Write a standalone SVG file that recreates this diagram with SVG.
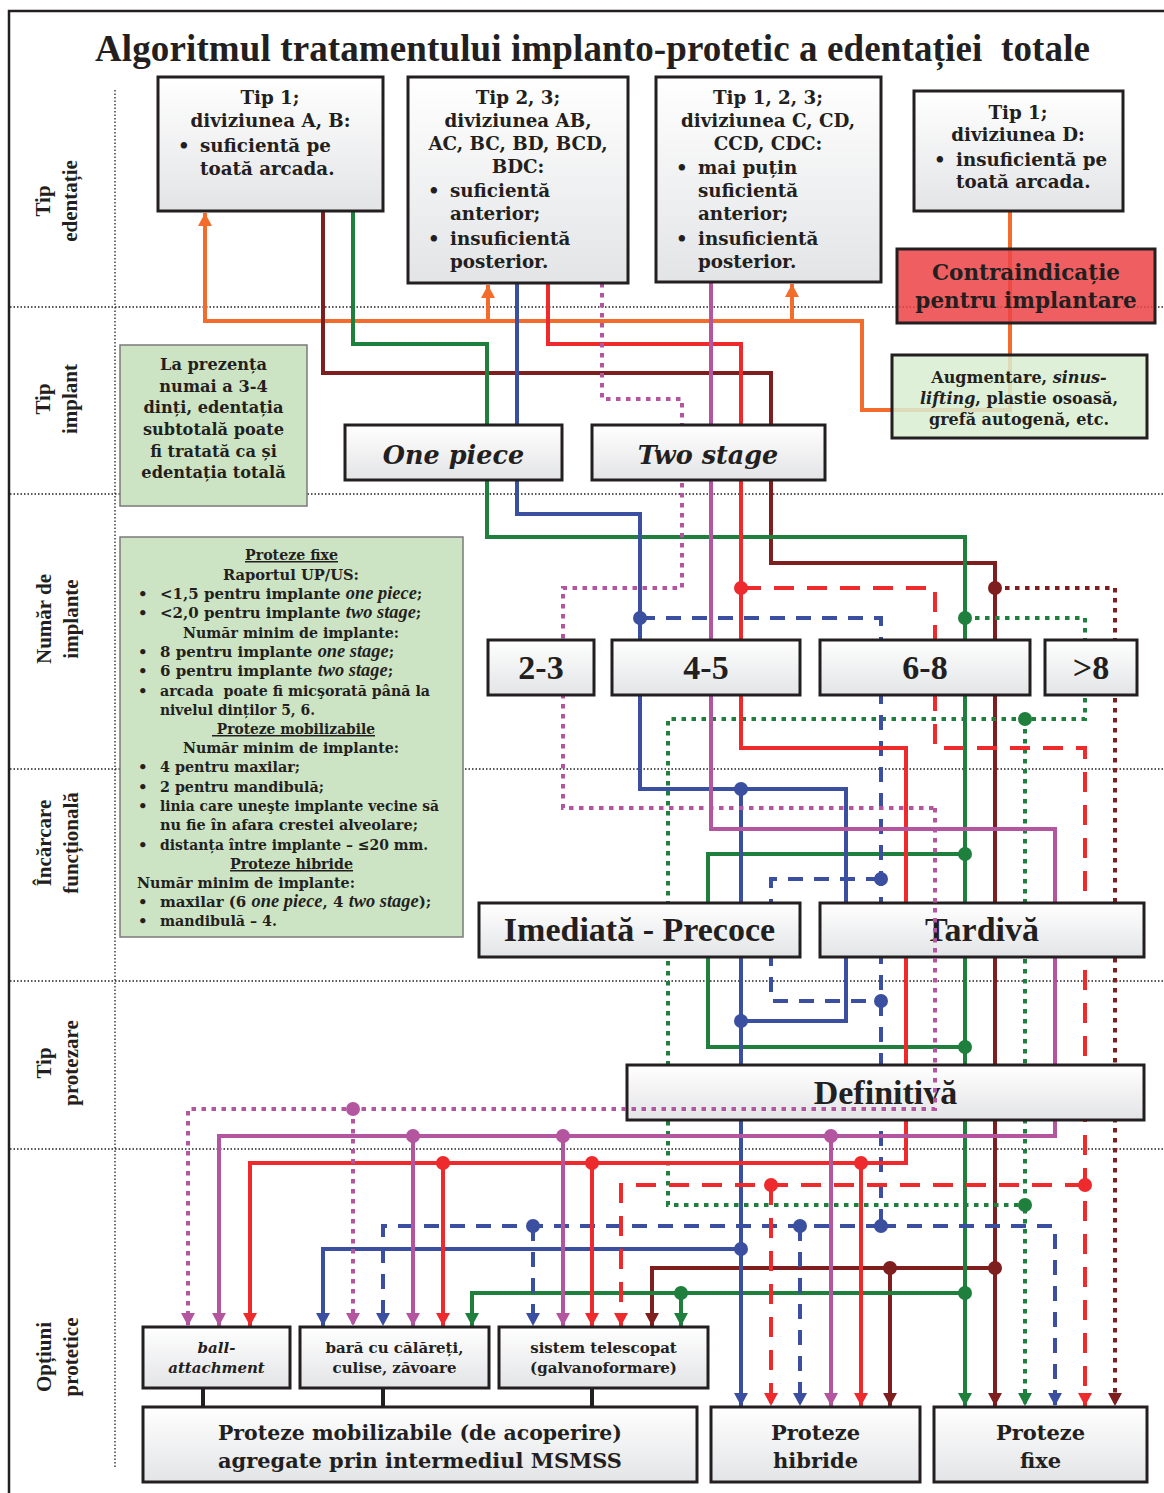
<svg xmlns="http://www.w3.org/2000/svg" width="1164" height="1493" viewBox="0 0 1164 1493">
<defs>
<linearGradient id="gb" x1="0" y1="0" x2="0" y2="1">
<stop offset="0" stop-color="#ffffff"/>
<stop offset="1" stop-color="#e3e4e6"/>
</linearGradient>
<marker id="aO" markerUnits="userSpaceOnUse" markerWidth="16" markerHeight="16" refX="13" refY="7" orient="auto"><path d="M0,0 L13,7 L0,14 z" fill="#f36c2b"/></marker>
<marker id="aM" markerUnits="userSpaceOnUse" markerWidth="16" markerHeight="16" refX="13" refY="7" orient="auto"><path d="M0,0 L13,7 L0,14 z" fill="#7e1e1f"/></marker>
<marker id="aG" markerUnits="userSpaceOnUse" markerWidth="16" markerHeight="16" refX="13" refY="7" orient="auto"><path d="M0,0 L13,7 L0,14 z" fill="#1f7f3c"/></marker>
<marker id="aB" markerUnits="userSpaceOnUse" markerWidth="16" markerHeight="16" refX="13" refY="7" orient="auto"><path d="M0,0 L13,7 L0,14 z" fill="#3a4f9f"/></marker>
<marker id="aR" markerUnits="userSpaceOnUse" markerWidth="16" markerHeight="16" refX="13" refY="7" orient="auto"><path d="M0,0 L13,7 L0,14 z" fill="#ee2a2c"/></marker>
<marker id="aP" markerUnits="userSpaceOnUse" markerWidth="16" markerHeight="16" refX="13" refY="7" orient="auto"><path d="M0,0 L13,7 L0,14 z" fill="#b3559f"/></marker>
</defs>
<style>
.box{fill:url(#gb);stroke:#231f20;stroke-width:3}
.grn{fill:#cde4c4;stroke:#7a7a7a;stroke-width:1.5}
.d{font-family:"DejaVu Serif",serif;font-weight:bold;fill:#231f20}
.s{font-family:"Liberation Serif","Times New Roman",serif;font-weight:bold;fill:#231f20}
.mid{text-anchor:middle}
.it{font-style:italic}
.ti{font-family:"Liberation Serif","Times New Roman",serif;font-style:italic;font-size:18.4px}
.grid{fill:none;stroke:#231f20;stroke-width:1.3;stroke-dasharray:1.5 2}
.c{fill:none;stroke-width:4;stroke-linejoin:miter}
.o{stroke:#f36c2b}.m{stroke:#7e1e1f}.g{stroke:#1f7f3c}.b{stroke:#3a4f9f}.r{stroke:#ee2a2c}.p{stroke:#b3559f}
.dt{stroke-dasharray:4.5 5.5}
.dr{stroke-dasharray:20 13}
.ds{stroke-dasharray:15 11}
.stub{stroke:#231f20;stroke-width:4}
</style>
<rect width="1164" height="1493" fill="#ffffff"/>
<g id="frame">
<path d="M9,1493 V11 H1164" fill="none" stroke="#231f20" stroke-width="2.5"/>
<path class="grid" d="M10,307 H1164 M10,494 H1164 M10,769 H1164 M10,981 H1164 M10,1149 H1164 M115,90 V1467"/>
</g>
<text id="title" class="s mid" font-size="37" x="592.5" y="61" textLength="995" xml:space="preserve">Algoritmul tratamentului implanto-protetic a edentației  totale</text>
<g id="row-labels" class="s mid" font-size="21">
<text transform="translate(0,201) rotate(-90)"><tspan x="0" y="50">Tip</tspan><tspan x="0" y="77">edentație</tspan></text>
<text transform="translate(0,399) rotate(-90)"><tspan x="0" y="50">Tip</tspan><tspan x="0" y="77">implant</tspan></text>
<text transform="translate(0,619) rotate(-90)"><tspan x="0" y="51">Număr de</tspan><tspan x="0" y="78">implante</tspan></text>
<text transform="translate(0,843) rotate(-90)"><tspan x="0" y="51">Încărcare</tspan><tspan x="0" y="78">funcțională</tspan></text>
<text transform="translate(0,1063) rotate(-90)"><tspan x="0" y="51">Tip</tspan><tspan x="0" y="78">protezare</tspan></text>
<text transform="translate(0,1357) rotate(-90)"><tspan x="0" y="51">Opțiuni</tspan><tspan x="0" y="78">protetice</tspan></text>
</g>

<g id="connectors">
<path class="c o" d="M1010,211 V410 H862 V321 H205 V213" marker-end="url(#aO)"/>
<path class="c o" d="M488,321 V285" marker-end="url(#aO)"/>
<path class="c o" d="M792,321 V284" marker-end="url(#aO)"/>

<path class="c m" d="M323,211 V373 H771 V563 H995 V1406" marker-end="url(#aM)"/>
<path class="c m" d="M995,1268 H652 V1326" marker-end="url(#aM)"/>
<path class="c m" d="M890,1268 V1406" marker-end="url(#aM)"/>
<path class="c m dt" d="M995,588 H1115 V1406" marker-end="url(#aM)"/>

<path class="c g" d="M353,211 V344 H487 V537 H965 V1406" marker-end="url(#aG)"/>
<path class="c g" d="M965,854 H708 V1047 H965"/>
<path class="c g" d="M965,1293 H472 V1326" marker-end="url(#aG)"/>
<path class="c g" d="M681,1293 V1326" marker-end="url(#aG)"/>
<path class="c g dt" d="M965,618 H1085 V719 H668 V1205 H1025"/>
<path class="c g dt" d="M1025,719 V1406" marker-end="url(#aG)"/>

<path class="c b" d="M517,283 V514 H640 V789 H846 V1021 H741"/>
<path class="c b" d="M741,789 V1406" marker-end="url(#aB)"/>
<path class="c b" d="M741,1249 H323 V1326" marker-end="url(#aB)"/>
<path class="c b ds" d="M640,618 H881 V1226"/>
<path class="c b ds" d="M881,879 H771 V1001 H881"/>
<path class="c b ds" d="M881,1226 H383 V1326" marker-end="url(#aB)"/>
<path class="c b ds" d="M881,1226 H1055 V1406" marker-end="url(#aB)"/>
<path class="c b ds" d="M533,1226 V1326" marker-end="url(#aB)"/>
<path class="c b ds" d="M800,1226 V1406" marker-end="url(#aB)"/>

<path class="c r" d="M548,283 V344 H741 V748 H906 V1163 H250 V1326" marker-end="url(#aR)"/>
<path class="c r" d="M443,1163 V1326" marker-end="url(#aR)"/>
<path class="c r" d="M592,1163 V1326" marker-end="url(#aR)"/>
<path class="c r" d="M861,1163 V1406" marker-end="url(#aR)"/>
<path class="c r dr" d="M741,588 H935 V748 H1085 V1406" marker-end="url(#aR)"/>
<path class="c r dr" d="M1085,1185 H621 V1326" marker-end="url(#aR)"/>
<path class="c r dr" d="M771,1185 V1406" marker-end="url(#aR)"/>

<path class="c p" d="M711,282 V829 H1055 V1136 H219 V1326" marker-end="url(#aP)"/>
<path class="c p" d="M413,1136 V1326" marker-end="url(#aP)"/>
<path class="c p" d="M563,1136 V1326" marker-end="url(#aP)"/>
<path class="c p" d="M831,1136 V1406" marker-end="url(#aP)"/>
<path class="c p dt" d="M602,283 V399 H682 V588 H563 V808 H935"/>

<g fill="#7e1e1f"><circle cx="995" cy="588" r="7"/><circle cx="995" cy="1268" r="7"/><circle cx="890" cy="1268" r="7"/></g>
<g fill="#ee2a2c"><circle cx="741" cy="588" r="7"/><circle cx="443" cy="1163" r="7"/><circle cx="592" cy="1163" r="7"/><circle cx="861" cy="1163" r="7"/><circle cx="771" cy="1185" r="7"/><circle cx="1085" cy="1185" r="7"/></g>
<g fill="#3a4f9f"><circle cx="640" cy="618" r="7"/><circle cx="741" cy="789" r="7"/><circle cx="741" cy="1021" r="7"/><circle cx="741" cy="1249" r="7"/><circle cx="881" cy="879" r="7"/><circle cx="881" cy="1001" r="7"/><circle cx="881" cy="1226" r="7"/><circle cx="533" cy="1226" r="7"/><circle cx="800" cy="1226" r="7"/></g>
<g fill="#1f7f3c"><circle cx="965" cy="618" r="7"/><circle cx="965" cy="854" r="7"/><circle cx="965" cy="1047" r="7"/><circle cx="965" cy="1293" r="7"/><circle cx="681" cy="1293" r="7"/><circle cx="1025" cy="719" r="7"/><circle cx="1025" cy="1205" r="7"/></g>
<g fill="#b3559f"><circle cx="413" cy="1136" r="7"/><circle cx="563" cy="1136" r="7"/><circle cx="831" cy="1136" r="7"/></g>
<path class="stub" d="M203,1388 V1407 M383,1388 V1407 M592,1388 V1407"/>
</g>

<g id="box-tip1ab">
<rect class="box" x="158" y="77" width="225" height="134"/>
<g class="d" font-size="18.3">
<text class="mid" x="270" y="104">Tip 1;</text>
<text class="mid" x="270.5" y="127">diviziunea A, B:</text>
<text x="178" y="152">•</text><text x="200" y="152">suficientă pe</text>
<text x="200" y="175">toată arcada.</text>
</g>
</g>
<g id="box-tip23">
<rect class="box" x="408" y="77" width="220" height="206"/>
<g class="d" font-size="18.3">
<text class="mid" x="518" y="104">Tip 2, 3;</text>
<text class="mid" x="518" y="127">diviziunea AB,</text>
<text class="mid" x="518" y="150">AC, BC, BD, BCD,</text>
<text class="mid" x="518" y="173">BDC:</text>
<text x="428" y="197">•</text><text x="450" y="197">suficientă</text>
<text x="450" y="220">anterior;</text>
<text x="428" y="245">•</text><text x="450" y="245">insuficientă</text>
<text x="450" y="268">posterior.</text>
</g>
</g>
<g id="box-tip123">
<rect class="box" x="656" y="77" width="225" height="205"/>
<g class="d" font-size="18.3">
<text class="mid" x="768" y="104">Tip 1, 2, 3;</text>
<text class="mid" x="768" y="127">diviziunea C, CD,</text>
<text class="mid" x="768" y="150">CCD, CDC:</text>
<text x="676" y="174">•</text><text x="698" y="174">mai puțin</text>
<text x="698" y="197">suficientă</text>
<text x="698" y="220">anterior;</text>
<text x="676" y="245">•</text><text x="698" y="245">insuficientă</text>
<text x="698" y="268">posterior.</text>
</g>
</g>
<g id="box-tip1d">
<rect class="box" x="914" y="91" width="209" height="120"/>
<g class="d" font-size="18.3">
<text class="mid" x="1018" y="119">Tip 1;</text>
<text class="mid" x="1018" y="141">diviziunea D:</text>
<text x="934" y="166">•</text><text x="956" y="166">insuficientă pe</text>
<text x="956" y="188">toată arcada.</text>
</g>
</g>
<g id="box-contra">
<rect x="897" y="249" width="258" height="74" fill="#ec4548" fill-opacity="0.86" stroke="#231f20" stroke-width="3"/>
<text class="d mid" font-size="21.5" x="1026" y="280">Contraindicație</text>
<text class="d mid" font-size="21.5" x="1026" y="308">pentru implantare</text>
</g>
<g id="box-augment">
<rect x="892" y="355" width="255" height="83" fill="#d8edd2" fill-opacity="0.86" stroke="#231f20" stroke-width="3"/>
<g class="d mid" font-size="16">
<text x="1019" y="383">Augmentare, <tspan class="it">sinus-</tspan></text>
<text x="1019" y="404"><tspan class="it">lifting</tspan>, plastie osoasă,</text>
<text x="1019" y="425">grefă autogenă, etc.</text>
</g>
</g>
<g id="note-subtotal">
<rect class="grn" x="120" y="345" width="187" height="161"/>
<g class="d mid" font-size="16.2">
<text x="213.5" y="370">La prezența</text>
<text x="213.5" y="392">numai a 3-4</text>
<text x="213.5" y="413">dinți, edentația</text>
<text x="213.5" y="435">subtotală poate</text>
<text x="213.5" y="457">fi tratată ca și</text>
<text x="213.5" y="478">edentația totală</text>
</g>
</g>
<g id="box-onepiece">
<rect class="box" x="345" y="425" width="217" height="55"/>
<text class="d mid it" font-size="25.5" x="453.5" y="464">One piece</text>
</g>
<g id="box-twostage">
<rect class="box" x="592" y="425" width="233" height="55"/>
<text class="d mid it" font-size="25.5" x="708" y="464">Two stage</text>
</g>
<g id="note-numar">
<rect class="grn" x="120" y="537" width="343" height="400"/>
<g class="d" font-size="15">
<text class="mid" x="291.5" y="560" text-decoration="underline" textLength="93" lengthAdjust="spacingAndGlyphs">Proteze fixe</text>
<text class="mid" x="291" y="580" textLength="136" lengthAdjust="spacingAndGlyphs">Raportul UP/US:</text>
<text x="138" y="599">•</text><text x="160" y="599">&lt;1,5 pentru implante <tspan class="ti">one piece</tspan>;</text>
<text x="138" y="618">•</text><text x="160" y="618">&lt;2,0 pentru implante <tspan class="ti">two stage</tspan>;</text>
<text class="mid" x="291" y="638" textLength="216" lengthAdjust="spacingAndGlyphs">Număr minim de implante:</text>
<text x="138" y="657">•</text><text x="160" y="657">8 pentru implante <tspan class="ti">one stage</tspan>;</text>
<text x="138" y="676">•</text><text x="160" y="676">6 pentru implante <tspan class="ti">two stage</tspan>;</text>
<text x="138" y="696">•</text><text x="160" y="696" xml:space="preserve" textLength="270" lengthAdjust="spacingAndGlyphs">arcada  poate fi micşorată până la</text>
<text x="160" y="715" textLength="155" lengthAdjust="spacingAndGlyphs">nivelul dinților 5, 6.</text>
<text class="mid" x="293.5" y="734" text-decoration="underline" xml:space="preserve" textLength="163" lengthAdjust="spacingAndGlyphs"> Proteze mobilizabile</text>
<text class="mid" x="291" y="753" textLength="216" lengthAdjust="spacingAndGlyphs">Număr minim de implante:</text>
<text x="138" y="772">•</text><text x="160" y="772" textLength="140" lengthAdjust="spacingAndGlyphs">4 pentru maxilar;</text>
<text x="138" y="792">•</text><text x="160" y="792" textLength="164" lengthAdjust="spacingAndGlyphs">2 pentru mandibulă;</text>
<text x="138" y="811">•</text><text x="160" y="811" textLength="279" lengthAdjust="spacingAndGlyphs">linia care uneşte implante vecine să</text>
<text x="160" y="830" textLength="258" lengthAdjust="spacingAndGlyphs">nu fie în afara crestei alveolare;</text>
<text x="138" y="850">•</text><text x="160" y="850" textLength="268" lengthAdjust="spacingAndGlyphs">distanța între implante – ≤20 mm.</text>
<text class="mid" x="291.5" y="869" text-decoration="underline" textLength="123" lengthAdjust="spacingAndGlyphs">Proteze hibride</text>
<text x="137" y="888" textLength="218" lengthAdjust="spacingAndGlyphs">Număr minim de implante:</text>
<text x="138" y="907">•</text><text x="160" y="907">maxilar (6 <tspan class="ti">one piece</tspan>, 4 <tspan class="ti">two stage</tspan>);</text>
<text x="138" y="926">•</text><text x="160" y="926" textLength="117" lengthAdjust="spacingAndGlyphs">mandibulă – 4.</text>
</g>
</g>
<g id="box-2-3"><rect class="box" x="488" y="640" width="106" height="55"/><text class="s mid" font-size="34" x="541" y="679">2-3</text></g>
<g id="box-4-5"><rect class="box" x="612" y="640" width="188" height="55"/><text class="s mid" font-size="34" x="706" y="679">4-5</text></g>
<g id="box-6-8"><rect class="box" x="820" y="640" width="210" height="55"/><text class="s mid" font-size="34" x="925" y="679">6-8</text></g>
<g id="box-gt8"><rect class="box" x="1045" y="640" width="92" height="55"/><text class="s mid" font-size="34" x="1091" y="679">&gt;8</text></g>
<g id="box-imediata"><rect class="box" x="479" y="903" width="321" height="54"/><text class="s mid" font-size="34" x="639.5" y="941">Imediată - Precoce</text></g>
<g id="box-tardiva"><rect class="box" x="820" y="903" width="324" height="54"/><text class="s mid" font-size="34" x="982" y="941">Tardivă</text></g>
<g id="box-definitiva"><rect class="box" x="627" y="1065" width="517" height="55"/><text class="s mid" font-size="34" x="885.5" y="1104">Definitivă</text></g>
<g id="box-ball">
<rect class="box" x="143" y="1327" width="147" height="61"/>
<text class="d mid it" font-size="15" x="216.5" y="1353">ball-</text>
<text class="d mid it" font-size="15" x="216.5" y="1373">attachment</text>
</g>
<g id="box-bara">
<rect class="box" x="300" y="1327" width="189" height="61"/>
<text class="d mid" font-size="15" x="394.5" y="1353">bară cu călăreți,</text>
<text class="d mid" font-size="15" x="394.5" y="1373">culise, zăvoare</text>
</g>
<g id="box-telescop">
<rect class="box" x="499" y="1327" width="209" height="61"/>
<text class="d mid" font-size="15" x="603.5" y="1353">sistem telescopat</text>
<text class="d mid" font-size="15" x="603.5" y="1373">(galvanoformare)</text>
</g>
<g id="box-mobilizabile">
<rect class="box" x="143" y="1407" width="554" height="75"/>
<text class="d mid" font-size="21" x="420" y="1440" textLength="404" lengthAdjust="spacingAndGlyphs">Proteze mobilizabile (de acoperire)</text>
<text class="d mid" font-size="21" x="420" y="1468" textLength="404" lengthAdjust="spacingAndGlyphs">agregate prin intermediul MSMSS</text>
</g>
<g id="box-hibride">
<rect class="box" x="711" y="1407" width="209" height="75"/>
<text class="d mid" font-size="21" x="815.5" y="1440">Proteze</text>
<text class="d mid" font-size="21" x="815.5" y="1468">hibride</text>
</g>
<g id="box-fixe">
<rect class="box" x="934" y="1407" width="213" height="75"/>
<text class="d mid" font-size="21" x="1040.5" y="1440">Proteze</text>
<text class="d mid" font-size="21" x="1040.5" y="1468">fixe</text>
</g>

<g id="connectors-over">
<path class="c p dt" d="M935,808 V1109 H188 V1326" marker-end="url(#aP)"/>
<path class="c p dt" d="M353,1109 V1326" marker-end="url(#aP)"/>
<circle cx="353" cy="1109" r="7" fill="#b3559f"/>
</g>
</svg>
